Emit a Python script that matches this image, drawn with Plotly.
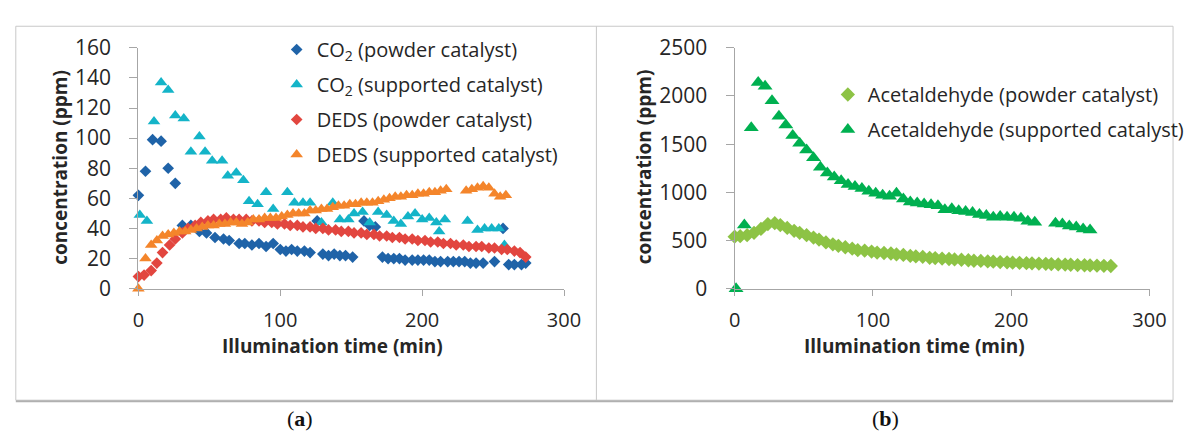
import plotly.graph_objects as go

W, H = 1193, 446

# ---------------- Panel (a) data ----------------
co2_powder_t = [0, 5, 10, 16, 21, 26, 31, 37, 43, 48, 54, 60, 64, 71, 75, 80, 85, 90, 95,
                100, 104, 108, 112, 117, 121, 126, 130, 134, 138, 142, 146, 151, 159, 163, 167,
                172, 176, 180, 184, 188, 193, 197, 201, 205, 209, 213, 218, 222, 226, 230, 234,
                238, 243, 251, 257, 261, 265, 270, 273]
co2_powder_v = [62, 78, 99, 98, 80, 70, 42, 42, 38, 37, 34, 33, 32, 30, 30, 29, 30, 28, 30,
                26, 25, 26, 25, 25, 24, 45, 23, 22, 23, 22, 22, 21, 45, 42, 41,
                21, 20, 20, 20, 19, 19, 19, 19, 19, 18, 18, 18, 18, 18, 18, 17,
                17, 17, 18, 40, 16, 16, 16, 17]

co2_supp_t = [1, 6, 11, 16, 21, 26, 32, 37, 43, 47, 52, 59, 63, 69, 74, 78, 84, 90, 95,
              105, 110, 116, 121, 129, 137, 142, 148, 152, 158, 163, 169, 175, 180, 185, 190,
              195, 200, 205, 210, 212, 216, 232, 239, 244, 249, 254, 258]
co2_supp_v = [49, 45, 111, 137, 132, 115, 113, 91, 101, 91, 85, 85, 75, 77, 72, 58, 56, 64, 53,
              64, 57, 57, 57, 44, 57, 46, 46, 50, 51, 44, 51, 49, 45, 43, 48,
              50, 46, 47, 44, 38, 46, 45, 39, 40, 40, 40, 29]

deds_powder_t = [0, 4, 9, 13, 17, 22, 26, 31, 35, 40, 44, 49, 53, 58, 62, 67, 71, 76, 80, 85,
                 89, 94, 98, 103, 107, 112, 116, 121, 125, 130, 134, 139, 143, 148, 152, 157,
                 161, 166, 170, 175, 179, 184, 188, 193, 197, 202, 206, 211, 215, 220, 224, 229,
                 233, 238, 242, 247, 251, 256, 260, 265, 269, 273]
deds_powder_v = [8, 9, 12, 17, 24, 29, 33, 37, 40, 42, 44, 45, 46, 46, 47, 46, 46, 46, 45, 45,
                 44, 44, 43, 43, 42, 42, 41, 41, 40, 40, 39, 39, 38, 38, 37, 37,
                 36, 36, 35, 35, 34, 34, 33, 33, 32, 32, 31, 31, 30, 30, 29, 29,
                 28, 28, 28, 27, 27, 26, 26, 25, 24, 21]

deds_supp_t = [0, 5, 9, 13, 17, 21, 25, 29, 33, 37, 41, 45, 49, 53, 57, 61, 65, 69, 73, 77,
               81, 85, 89, 93, 97, 101, 105, 109, 113, 117, 121, 125, 129, 133, 137, 141, 145,
               149, 153, 157, 161, 165, 169, 173, 177, 181, 185, 189, 193, 197, 201, 205, 209,
               213, 217, 231, 235, 239, 243, 247, 251, 255, 259]
deds_supp_v = [0, 20, 29, 32, 35, 36, 37, 38, 38, 39, 40, 41, 42, 42, 43, 43, 44, 44, 43, 44,
               46, 46, 47, 47, 47, 48, 49, 50, 50, 50, 52, 52, 53, 53, 54, 55, 55,
               56, 56, 57, 57, 57, 58, 59, 60, 61, 61, 62, 62, 63, 63, 64, 64,
               65, 66, 65, 66, 67, 68, 67, 63, 61, 62]

# ---------------- Panel (b) data ----------------
acet_powder_t = [0, 4, 9, 14, 19, 24, 29, 33, 38, 43, 47, 52, 57, 61, 66, 71, 75, 80, 85, 89,
                 94, 99, 103, 108, 113, 117, 122, 127, 131, 136, 141, 145, 150, 155, 159, 164,
                 169, 173, 178, 183, 187, 192, 197, 201, 206, 211, 215, 220, 225, 229, 234, 239,
                 243, 248, 253, 257, 262, 267, 272]
acet_powder_v = [540, 545, 555, 580, 620, 670, 680, 660, 630, 600, 580, 555, 530, 510, 480, 460,
                 445, 430, 415, 400, 395, 385, 375, 370, 365, 355, 350, 340, 335, 330, 320, 318,
                 312, 308, 303, 300, 295, 290, 288, 283, 280, 276, 273, 270, 268, 265, 263, 260,
                 258, 255, 252, 250, 248, 245, 243, 241, 239, 237, 235]

acet_supp_t = [1, 7, 12, 17, 22, 27, 32, 37, 42, 47, 52, 57, 62, 67, 72, 77, 82, 87, 92, 97,
               102, 107, 112, 117, 122, 127, 132, 137, 142, 147, 152, 157, 162, 167, 172, 177,
               182, 187, 192, 197, 202, 207, 212, 217, 232, 237, 242, 247, 252, 257]
acet_supp_v = [0, 660, 1670, 2140, 2100, 1950, 1790, 1700, 1590, 1510, 1440, 1360, 1260, 1200,
               1160, 1120, 1080, 1060, 1040, 1010, 990, 970, 960, 990, 930, 900, 890, 880, 870,
               860, 820, 830, 810, 800, 790, 770, 760, 740, 750, 740, 740, 730, 700, 690,
               680, 670, 650, 640, 620, 610]

x_ticks = [0, 100, 200, 300]
left_y_ticks = [0, 20, 40, 60, 80, 100, 120, 140, 160]
right_y_ticks = [0, 500, 1000, 1500, 2000, 2500]

FONT = "Open Sans"
TXT = "#262626"
AX = "#A6A6A6"


def px_x(p):
    return p / W


def px_y(p):
    return 1 - p / H


fig = go.Figure()

series_a = [
    ("CO<sub>2</sub> (powder catalyst)", co2_powder_t, co2_powder_v, "diamond", "#1F63A8", 9),
    ("CO<sub>2</sub> (supported catalyst)", co2_supp_t, co2_supp_v, "triangle-up", "#14B4C8", 11),
    ("DEDS (powder catalyst)", deds_powder_t, deds_powder_v, "diamond", "#E2463F", 9),
    ("DEDS (supported catalyst)", deds_supp_t, deds_supp_v, "triangle-up", "#F4852B", 11),
]
for name, t, v, sym, col, sz in series_a:
    fig.add_trace(go.Scatter(x=t, y=v, mode="markers", name=name, legendgroup=name,
                             marker=dict(symbol=sym, color=col, size=sz, line=dict(width=0)),
                             xaxis="x", yaxis="y", legend="legend", cliponaxis=False))

series_b = [
    ("Acetaldehyde (powder catalyst)", acet_powder_t, acet_powder_v, "diamond", "#8DC345", 11),
    ("Acetaldehyde (supported catalyst)", acet_supp_t, acet_supp_v, "triangle-up", "#00B050", 13),
]
for name, t, v, sym, col, sz in series_b:
    fig.add_trace(go.Scatter(x=t, y=v, mode="markers", name=name, legendgroup=name,
                             marker=dict(symbol=sym, color=col, size=sz, line=dict(width=0)),
                             xaxis="x2", yaxis="y2", legend="legend2", cliponaxis=False))

ydom = [px_y(292), px_y(35)]
common_x = dict(range=[0, 300], tickvals=x_ticks, showline=True, linecolor=AX, linewidth=1.3,
                ticks="outside", ticklen=6, tickcolor=AX, tickwidth=1.3, showgrid=False,
                zeroline=False, tickfont=dict(family=FONT, size=20, color=TXT),
                ticklabelstandoff=7)
common_y = dict(showline=True, linecolor=AX, linewidth=1.3, ticks="outside", ticklen=8,
                tickcolor=AX, tickwidth=1.3, showgrid=False, zeroline=False,
                tickfont=dict(family=FONT, size=21, color=TXT), ticklabelstandoff=14)

legend_common = dict(xanchor="left", yanchor="top", bgcolor="rgba(0,0,0,0)",
                     font=dict(family=FONT, size=20, color=TXT), tracegroupgap=6,
                     traceorder="grouped", itemclick=False)

fig.update_layout(
    width=W, height=H, margin=dict(l=0, r=0, t=0, b=0),
    paper_bgcolor="white", plot_bgcolor="white",
    xaxis=dict(domain=[px_x(135), px_x(569)], anchor="y", **common_x),
    yaxis=dict(domain=ydom, anchor="x", range=[0, 160], tickvals=left_y_ticks, **common_y),
    xaxis2=dict(domain=[px_x(743), px_x(1166)], anchor="y2", **common_x),
    yaxis2=dict(domain=ydom, anchor="x2", range=[0, 2500], tickvals=right_y_ticks, **common_y),
    legend=dict(x=px_x(276), y=px_y(16), **legend_common),
    legend2=dict(x=px_x(838), y=px_y(64), **legend_common),
    showlegend=True,
)

annots = [
    dict(text="<b>concentration (ppm)</b>", x=px_x(55), y=px_y(162), textangle=-90),
    dict(text="<b>Illumination time (min)</b>", x=px_x(333), y=px_y(353)),
    dict(text="<b>concentration (ppm)</b>", x=px_x(650), y=px_y(162), textangle=-90),
    dict(text="<b>Illumination time (min)</b>", x=px_x(926), y=px_y(353)),
]
for a in annots:
    fig.add_annotation(xref="paper", yref="paper", showarrow=False,
                       font=dict(family=FONT, size=19, color=TXT),
                       xanchor="center", yanchor="middle", **a)

for lab, xc in [("a", 300), ("b", 897)]:
    fig.add_annotation(xref="paper", yref="paper", showarrow=False,
                       text=f"(<b>{lab}</b>)", x=px_x(xc), y=px_y(430),
                       font=dict(family="Liberation Serif", size=22, color="#111"),
                       xanchor="center", yanchor="middle")

# panel frames
fig.add_shape(type="rect", xref="paper", yref="paper", x0=px_x(10), x1=px_x(1190),
              y0=px_y(411), y1=px_y(12), line=dict(color="#C8C8C8", width=1))
fig.add_shape(type="line", xref="paper", yref="paper", x0=px_x(602), x1=px_x(602),
              y0=px_y(411), y1=px_y(12), line=dict(color="#C8C8C8", width=1))
fig.add_shape(type="line", xref="paper", yref="paper", x0=px_x(10), x1=px_x(1190),
              y0=px_y(412), y1=px_y(412), line=dict(color="#B0B0B0", width=2))

fig.write_html("out.html")
